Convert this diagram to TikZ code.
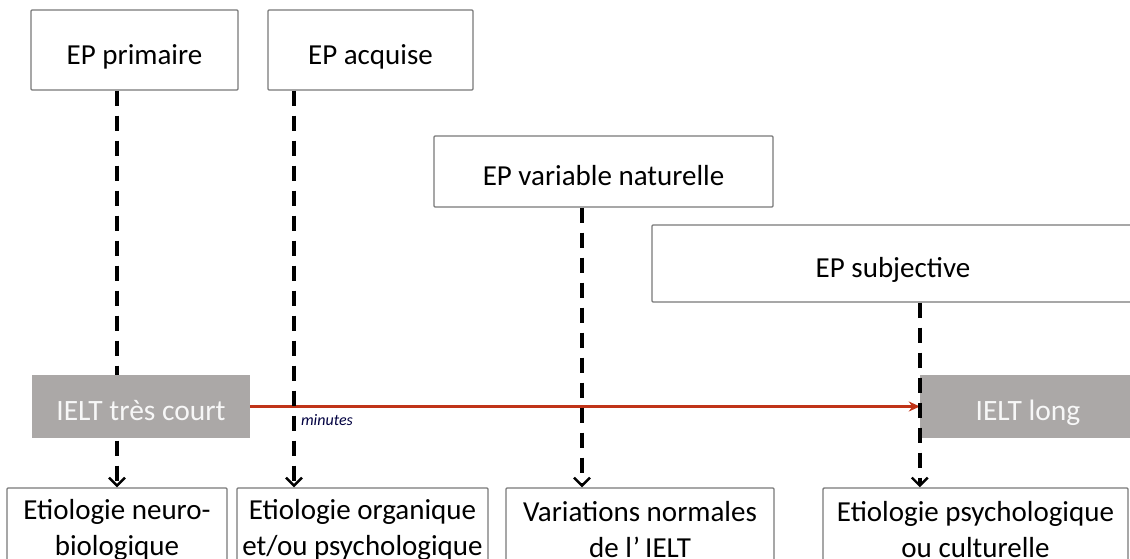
\documentclass[tikz,border=0pt]{standalone}
\usepackage{fontspec}
\setmainfont{Carlito}
\usetikzlibrary{arrows.meta,positioning}
\definecolor{boxline}{RGB}{120,120,120}
\definecolor{ieltgray}{RGB}{171,168,167}
\definecolor{ieltred}{RGB}{192,52,24}
\tikzset{
  epbox/.style={
    draw = boxline,
    line width = 1.4pt,
    fill = white,
    rounded corners = 1pt,
    minimum height = 80pt,
    text height = 30pt,
    text depth = 1.3pt,
    font = \fontsize{29}{35}\selectfont
  },
  ieltbox/.style={
    fill = ieltgray,
    text = white!97!black,
    minimum height = 63pt,
    text height = 30pt,
    text depth = 1.3pt,
    font = \fontsize{29.5}{35}\selectfont
  },
  etiobox/.style={
    draw = boxline,
    line width = 1.4pt,
    rounded corners = 1pt,
    minimum height = 84pt,
    align = center,
    font = \fontsize{29}{36}\selectfont
  },
  dasharrow/.style={
    line width = 3.4pt,
    dash pattern = on 15pt off 10pt,
    -{Straight Barb[length=8pt,width=16pt,line width=2.4pt]}
  }
}

\begin{document}
\begin{tikzpicture}[x=1pt,y=-1pt]
        \useasboundingbox (0,0) rectangle (1130,559);
        \clip (0,0) rectangle (1130,559);
        % top boxes
        \node[epbox, minimum width=207pt] (prim) at (134.5,50) {EP primaire};
        \node[epbox, minimum width=205pt] (acq) at (370.5,50) {EP acquise};
        \node[epbox, minimum width=339pt, minimum height=71pt] (var) at (603.5,171.5) {EP variable naturelle};
        \node[epbox, minimum width=482pt, minimum height=77pt] (subj) at (893,263.5) {EP subjective};
        % bottom boxes
        \node[etiobox, minimum width=220pt] (bot1) at (117,530) {Etiologie neuro-\\biologique};
        \node[etiobox, minimum width=251pt] (bot2) at (362.5,530) {Etiologie organique\\et/ou psychologique};
        \node[etiobox, minimum width=268pt] (bot3) at (640,530) {Variations normales\\de l\kern1pt'\kern5pt IELT};
        \node[etiobox, minimum width=305pt] (bot4) at (975.5,530) {Etiologie psychologique\\ou culturelle};
        % dashed lines
        \draw[dasharrow] (prim.south -| bot1.north) -- (bot1.north);
        \node[ieltbox, minimum width=218pt] (court) at (141,406.5) {IELT très court};
        \node[ieltbox, minimum width=216pt] (long) at (1028,406.5) {IELT long};
        \draw[ieltred, line width=3pt, -{Stealth[length=11pt,width=10pt]}] (court.east) -- (long.west);
        \node[font=\itshape\fontsize{16}{18}\selectfont, text=black!75!blue] (min) at (327,420) {minutes};
        \draw[dasharrow] (acq.south -| 294,0) -- (bot2.north -| 294,0);
        \draw[dasharrow] (var.south -| 582,0) -- (bot3.north -| 582,0);
        \draw[dasharrow] (subj.south -| long.west) -- (bot4.north -| long.west);
    \end{tikzpicture}
\end{document}
